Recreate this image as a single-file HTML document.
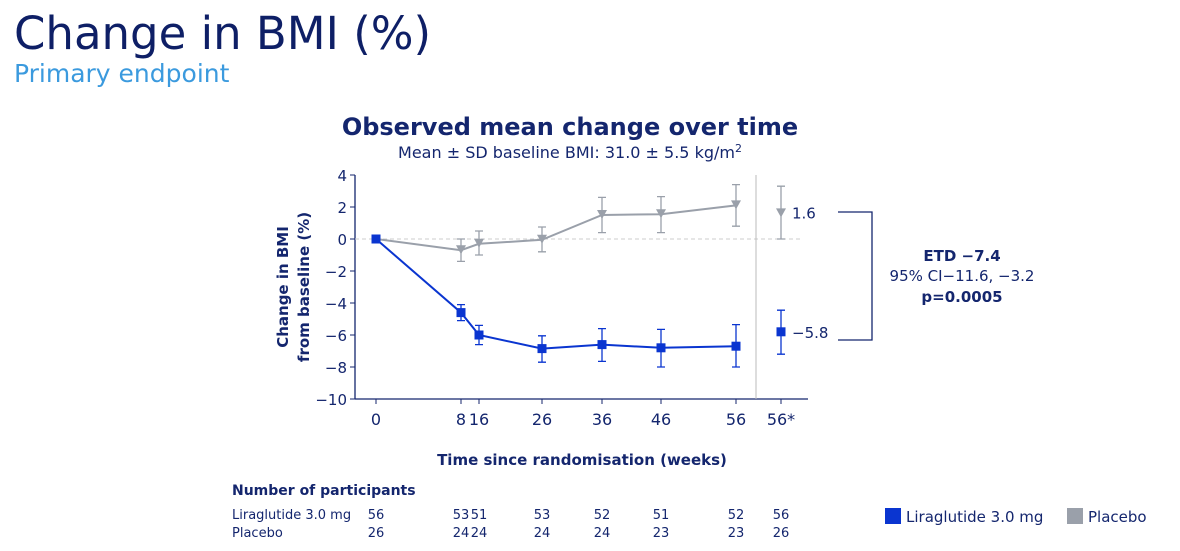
<!DOCTYPE html>
<html><head><meta charset="utf-8"><style>
body{margin:0;width:1180px;height:551px;background:#fff;overflow:hidden;font-family:"DejaVu Sans","Liberation Sans",sans-serif;color:#14266e;position:relative}
.t{position:absolute;white-space:nowrap}
</style></head><body>
<div class="t" style="left:14px;top:7px;font-size:45px;color:#0e1f66">Change in BMI (%)</div>
<div class="t" style="left:14px;top:59px;font-size:25px;color:#3b9ade">Primary endpoint</div>
<svg width="1180" height="551" style="position:absolute;left:0;top:0" font-family="DejaVu Sans, Liberation Sans, sans-serif" id="chart">
<text x="570" y="135" text-anchor="middle" font-size="24" font-weight="bold" fill="#14266e">Observed mean change over time</text>
<text x="570" y="158" text-anchor="middle" font-size="16" fill="#14266e">Mean ± SD baseline BMI: 31.0 ± 5.5 kg/m<tspan dy="-6" font-size="11">2</tspan></text>
<g font-size="15" font-weight="bold" fill="#14266e">
<text transform="translate(288,287) rotate(-90)" text-anchor="middle">Change in BMI</text>
<text transform="translate(309,287) rotate(-90)" text-anchor="middle">from baseline (%)</text></g>
<text x="582" y="465" text-anchor="middle" font-size="15" font-weight="bold" fill="#14266e">Time since randomisation (weeks)</text>
<g id="plot"></g>
<path d="M838 212H872V340H838" fill="none" stroke="#14266e" stroke-width="1.3"/>
<text x="962" y="261" text-anchor="middle" font-size="15" font-weight="bold" fill="#14266e">ETD −7.4</text>
<text x="962" y="281" text-anchor="middle" font-size="15" fill="#14266e">95% CI−11.6, −3.2</text>
<text x="962" y="302" text-anchor="middle" font-size="15" font-weight="bold" fill="#14266e">p=0.0005</text>
<text x="232" y="495" font-size="14" font-weight="bold" fill="#14266e">Number of participants</text>
<text x="232" y="519" font-size="13" fill="#14266e">Liraglutide 3.0 mg</text>
<text x="232" y="537" font-size="13" fill="#14266e">Placebo</text>
<g id="counts"></g>
<rect x="885" y="508" width="16" height="16" fill="#0a35d0"/>
<text x="906" y="522" font-size="15" fill="#14266e">Liraglutide 3.0 mg</text>
<rect x="1067" y="508" width="16" height="16" fill="#9aa0aa"/>
<text x="1088" y="522" font-size="15" fill="#14266e">Placebo</text>
</svg>
<script>
const categories=["0","8","16","26","36","46","56","56*"];
const weeks=[0,8,16,26,36,46,56];
const liraMean=[0,-4.6,-6.0,-6.85,-6.6,-6.8,-6.7];
const liraLo=[0,-5.1,-6.6,-7.7,-7.65,-8.0,-8.0];
const liraHi=[0,-4.1,-5.4,-6.05,-5.6,-5.65,-5.35];
const placMean=[0,-0.7,-0.3,-0.05,1.5,1.55,2.1];
const placLo=[0,-1.4,-1.0,-0.8,0.4,0.4,0.8];
const placHi=[0,0.0,0.5,0.75,2.6,2.65,3.4];
const liraFinal=[-5.8,-7.2,-4.45];
const placFinal=[1.6,0.0,3.3];
const yTicks=[4,2,0,-2,-4,-6,-8,-10];
const liraN=[56,53,51,53,52,51,52,56];
const placN=[26,24,24,24,24,23,23,26];
const NS="http://www.w3.org/2000/svg";
const bx=[0,8,16,26,36,46,56], bp=[376,461,479,542,602,661,736];
function x(w){for(let i=0;i<bx.length-1;i++){if(w<=bx[i+1]){return bp[i]+(w-bx[i])/(bx[i+1]-bx[i])*(bp[i+1]-bp[i]);}}return bp[bp.length-1];}
const xFinal=781;
function y(v){return 239-16*v;}
const g=document.getElementById('plot');
function el(t,a,p){const e=document.createElementNS(NS,t);for(const k in a)e.setAttribute(k,a[k]);(p||g).appendChild(e);return e;}
let e;
e=el('line',{x1:355,y1:175,x2:355,y2:399,stroke:'#14266e','stroke-width':1.3});


e=el('line',{x1:355,y1:399,x2:808,y2:399,stroke:'#14266e','stroke-width':1.3});


e=el('line',{x1:355,y1:y(0),x2:800,y2:y(0),stroke:'#ccc','stroke-dasharray':'4,3'});


e=el('line',{x1:756,y1:175,x2:756,y2:399,stroke:'#bbb'});


yTicks.forEach(v=>{
 el('line',{x1:350,y1:y(v),x2:355,y2:y(v),stroke:'#14266e'});
 const t=el('text',{x:347,y:y(v)+6,'text-anchor':'end','font-size':15,fill:'#14266e'});t.textContent=(v<0?'−'+(-v):v);
 
 
});
categories.forEach((c,i)=>{
 const xx=i<weeks.length?x(weeks[i]):xFinal;
 el('line',{x1:xx,y1:399,x2:xx,y2:404,stroke:'#14266e'});
 const t=el('text',{x:xx,y:425,'text-anchor':'middle','font-size':16,fill:'#14266e'});t.textContent=c;
 
 
 const cg=document.getElementById('counts');
 const a=el('text',{x:xx,y:519,'text-anchor':'middle','font-size':13,fill:'#14266e'},cg);a.textContent=liraN[i];
 
 
 const b=el('text',{x:xx,y:537,'text-anchor':'middle','font-size':13,fill:'#14266e'},cg);b.textContent=placN[i];
 
 
});
function err(xx,lo,hi,col,nm){const p=el('path',{d:`M${xx} ${y(lo)}V${y(hi)}M${xx-4} ${y(lo)}H${xx+4}M${xx-4} ${y(hi)}H${xx+4}`,stroke:col,fill:'none','stroke-width':1.3});

}
function tri(xx,v,col){const yy=y(v);const p=el('path',{d:`M${xx-5} ${yy-5}H${xx+5}L${xx} ${yy+4}Z`,fill:col});

}
function sq(xx,v,col){const r=el('rect',{x:xx-4.5,y:y(v)-4.5,width:9,height:9,fill:col});

}
const pc='#9aa0aa', lc='#0a35d0';
weeks.forEach((w,i)=>{if(i>0)err(x(w),placLo[i],placHi[i],pc,'placebo-error-bar');});
e=el('polyline',{points:weeks.map((w,i)=>x(w)+','+y(placMean[i])).join(' '),fill:'none',stroke:pc,'stroke-width':2});


weeks.forEach((w,i)=>{if(i>0)tri(x(w),placMean[i],pc);});
err(xFinal,placFinal[1],placFinal[2],pc,'placebo-final-error-bar');tri(xFinal,placFinal[0],pc);
weeks.forEach((w,i)=>{if(i>0)err(x(w),liraLo[i],liraHi[i],lc,'lira-error-bar');});
e=el('polyline',{points:weeks.map((w,i)=>x(w)+','+y(liraMean[i])).join(' '),fill:'none',stroke:lc,'stroke-width':2});


weeks.forEach((w,i)=>sq(x(w),liraMean[i],lc));
err(xFinal,liraFinal[1],liraFinal[2],lc,'lira-final-error-bar');sq(xFinal,liraFinal[0],lc);
let t=el('text',{x:792,y:y(placFinal[0])+5,'font-size':15,fill:'#14266e'});t.textContent=placFinal[0].toFixed(1);


t=el('text',{x:792,y:y(liraFinal[0])+6,'font-size':15,fill:'#14266e'});t.textContent='−'+(-liraFinal[0]).toFixed(1);


</script>
</body></html>
